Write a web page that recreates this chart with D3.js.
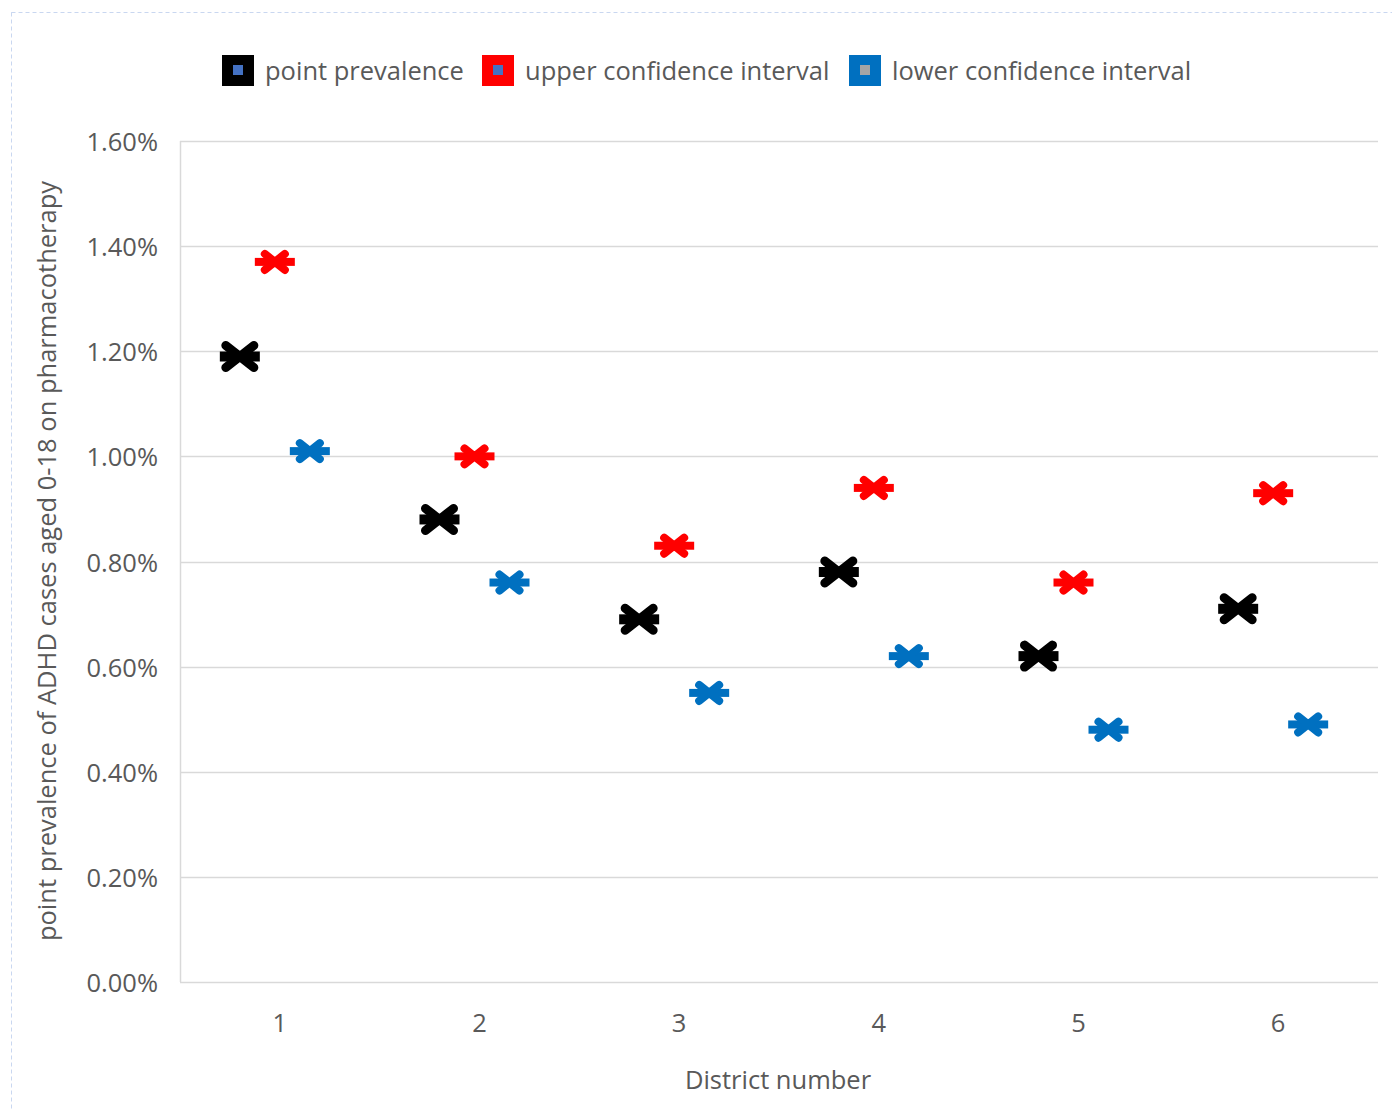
<!DOCTYPE html>
<html>
<head>
<meta charset="utf-8">
<script src="https://cdn.jsdelivr.net/npm/d3@7"></script>
<style>
  body { margin: 0; background: #fff; }
  svg text { font-family: "Open Sans", "Noto Sans", sans-serif; fill: #595959; }
</style>
</head>
<body>
<div id="chart"></div>
<script>
var districts = ["1", "2", "3", "4", "5", "6"];
var pointPrevalence = [1.19, 0.88, 0.69, 0.78, 0.62, 0.71];
var upperCI = [1.37, 1.00, 0.83, 0.94, 0.76, 0.93];
var lowerCI = [1.01, 0.76, 0.55, 0.62, 0.48, 0.49];
var yTicks = [0, 0.2, 0.4, 0.6, 0.8, 1.0, 1.2, 1.4, 1.6];

var series = [
    { name: "point prevalence", values: pointPrevalence, color: "#000000", inner: "#4472c4", offset: -40, xw: 14, xh: 11, sw: 9, bh: 10 },
    { name: "upper confidence interval", values: upperCI, color: "#ff0000", inner: "#4472c4", offset: -5, xw: 10, xh: 8, sw: 8, bh: 8 },
    { name: "lower confidence interval", values: lowerCI, color: "#0070c0", inner: "#a5a5a5", offset: 30, xw: 10, xh: 8, sw: 8, bh: 8 }
];

var W = 1392, H = 1111;
var margin = { left: 180, right: 14, top: 141, bottom: 129 };
var fs = 25.5;

var svg = d3.select("#chart").append("svg")
    .attr("width", W)
    .attr("height", H);

// outer dashed frame
svg.append("rect")
    .attr("x", 11.5).attr("y", 12.5)
    .attr("width", W + 20).attr("height", H + 20)
    .attr("fill", "none")
    .attr("stroke", "#c9d7f0")
    .attr("stroke-dasharray", "4,3");

var x = d3.scaleBand()
    .domain(districts)
    .range([margin.left, W - margin.right]);

var y = d3.scaleLinear()
    .domain([0, 1.6])
    .range([H - margin.bottom, margin.top]);

// gridlines
svg.append("g").selectAll("line")
    .data(yTicks)
    .enter().append("line")
    .attr("x1", margin.left)
    .attr("x2", W - margin.right)
    .attr("y1", d => Math.round(y(d)) + 0.5)
    .attr("y2", d => Math.round(y(d)) + 0.5)
    .attr("stroke", "#d9d9d9")
    .attr("stroke-width", 1.5);

// left axis line
svg.append("line")
    .attr("x1", margin.left + 0.5).attr("x2", margin.left + 0.5)
    .attr("y1", y(1.6)).attr("y2", y(0))
    .attr("stroke", "#d9d9d9")
    .attr("stroke-width", 1.5);

// y tick labels
svg.append("g").selectAll("text")
    .data(yTicks)
    .enter().append("text")
    .attr("x", 158)
    .attr("y", d => y(d) + 10)
    .attr("text-anchor", "end")
    .attr("font-size", fs)
    .text(d => d.toFixed(2) + "%");

// x tick labels
svg.append("g").selectAll("text")
    .data(districts)
    .enter().append("text")
    .attr("x", d => x(d) + x.bandwidth() / 2)
    .attr("y", 1032)
    .attr("text-anchor", "middle")
    .attr("font-size", fs)
    .text(d => d);

// axis titles
svg.append("text")
    .attr("x", 778).attr("y", 1089)
    .attr("text-anchor", "middle")
    .attr("font-size", fs)
    .text("District number");

svg.append("text")
    .attr("transform", "translate(56,561) rotate(-90)")
    .attr("text-anchor", "middle")
    .attr("font-size", fs)
    .text("point prevalence of ADHD cases aged 0-18 on pharmacotherapy");

// markers
series.forEach(function (s) {
    var g = svg.append("g");
    s.values.forEach(function (v, i) {
        var cx = x(districts[i]) + x.bandwidth() / 2 + s.offset;
        var cy = y(v);
        var m = g.append("g").attr("transform", "translate(" + cx + "," + cy + ")");
        m.append("rect")
            .attr("x", -20).attr("y", -s.bh / 2)
            .attr("width", 40).attr("height", s.bh)
            .attr("fill", s.color);
        m.append("path")
            .attr("d", "M" + (-s.xw) + "," + (-s.xh) + "L" + s.xw + "," + s.xh +
                "M" + (-s.xw) + "," + s.xh + "L" + s.xw + "," + (-s.xh))
            .attr("stroke", s.color)
            .attr("stroke-width", s.sw)
            .attr("stroke-linecap", "round")
            .attr("fill", "none");
    });
});

// legend
var legendX = [222, 482, 849];
series.forEach(function (s, i) {
    var lg = svg.append("g").attr("transform", "translate(" + legendX[i] + ",55)");
    lg.append("rect")
        .attr("width", 32).attr("height", 31)
        .attr("fill", s.color);
    lg.append("rect")
        .attr("x", 11).attr("y", 10)
        .attr("width", 10).attr("height", 10)
        .attr("fill", s.inner);
    lg.append("text")
        .attr("x", 43).attr("y", 25)
        .attr("font-size", fs)
        .text(s.name);
});
</script>
</body>
</html>
